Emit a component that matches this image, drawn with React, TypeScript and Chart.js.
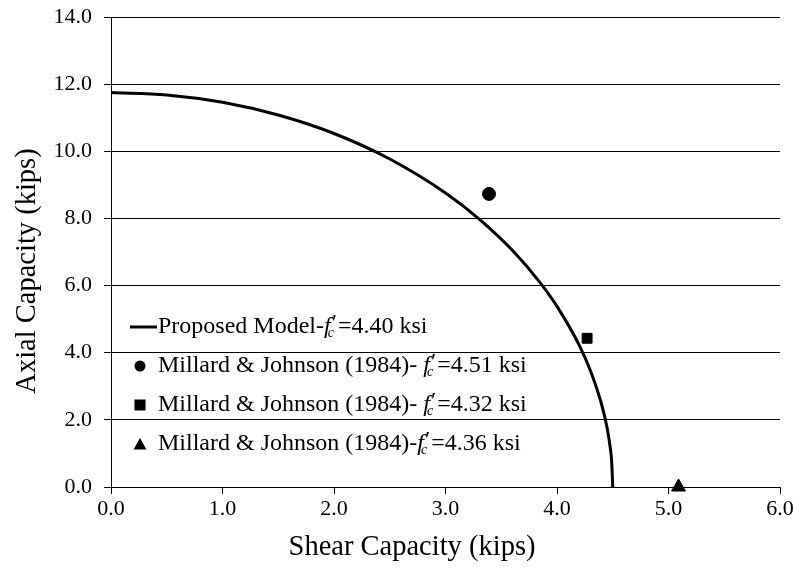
import React, { useEffect, useRef } from "react";
import { Chart, registerables } from "chart.js";

Chart.register(...registerables);

// Proposed model curve
const curveX = [0, 0.5, 1.0, 1.5, 2.0, 2.5, 3.0, 3.3, 3.6, 3.85, 4.0, 4.2, 4.3, 4.4, 4.45, 4.48, 4.49, 4.5];
const curveY = [11.75, 11.68, 11.46, 11.08, 10.53, 9.77, 8.76, 7.99, 7.05, 6.08, 5.38, 4.22, 3.46, 2.46, 1.75, 1.11, 0.78, 0.0];

// Millard & Johnson (1984) test points
const circlePt = { x: 3.39, y: 8.73 };
const squarePt = { x: 4.27, y: 4.43 };
const trianglePt = { x: 5.09, y: 0.0 };

const xTicks = [0, 1, 2, 3, 4, 5, 6];
const yTicks = [0, 2, 4, 6, 8, 10, 12, 14];

const xTitle = "Shear Capacity (kips)";
const yTitle = "Axial Capacity (kips)";

const legendPrefixes = [
  "Proposed Model-",
  "Millard & Johnson (1984)- ",
  "Millard & Johnson (1984)- ",
  "Millard & Johnson (1984)-",
];
const legendValues = ["=4.40 ksi", "=4.51 ksi", "=4.32 ksi", "=4.36 ksi"];
const legendMarkers = ["line", "circle", "rect", "triangle"];

const FONT = '"Liberation Serif", "Times New Roman", serif';
const LEG = 24;
const TITLE = 28.5;

const titlePlugin = {
  id: "axisTitles",
  afterDraw(chart: any) {
    const { ctx, chartArea } = chart;
    ctx.save();
    ctx.fillStyle = "#000";
    ctx.font = `${TITLE}px ${FONT}`;
    ctx.textAlign = "center";
    ctx.textBaseline = "middle";
    ctx.fillText(xTitle, chartArea.left + 301, chartArea.bottom + 61);
    ctx.translate(28, chartArea.top + 254);
    ctx.rotate(-Math.PI / 2);
    ctx.fillText(yTitle, 0, 0);
    ctx.restore();
  },
};

const legendPlugin = {
  id: "customLegend",
  afterDatasetsDraw(chart: any) {
    const { ctx, chartArea } = chart;
    const x0 = chartArea.left + 46;
    const offsets = [160, 121, 82, 43];
    ctx.save();
    ctx.fillStyle = "#000";
    ctx.strokeStyle = "#000";
    ctx.textBaseline = "middle";
    for (let i = 0; i < legendPrefixes.length; i++) {
      const y = chartArea.bottom - offsets[i];
      const m = legendMarkers[i];
      const mx = x0 - 17;
      if (m === "line") {
        ctx.lineWidth = 3;
        ctx.beginPath();
        ctx.moveTo(x0 - 27, y);
        ctx.lineTo(x0, y);
        ctx.stroke();
      } else if (m === "circle") {
        ctx.beginPath();
        ctx.arc(mx, y, 5.5, 0, Math.PI * 2);
        ctx.fill();
      } else if (m === "rect") {
        ctx.fillRect(mx - 5.5, y - 5.5, 11, 11);
      } else {
        ctx.beginPath();
        ctx.moveTo(mx, y - 6);
        ctx.lineTo(mx + 6.5, y + 5.5);
        ctx.lineTo(mx - 6.5, y + 5.5);
        ctx.closePath();
        ctx.fill();
      }
      let x = x0 + 1;
      ctx.font = `${LEG}px ${FONT}`;
      ctx.fillText(legendPrefixes[i], x, y);
      x += ctx.measureText(legendPrefixes[i]).width;
      ctx.font = `italic ${LEG}px ${FONT}`;
      ctx.fillText("f", x, y);
      const fw = ctx.measureText("f").width;
      ctx.font = `${LEG}px ${FONT}`;
      ctx.fillText("\u2032", x + fw + 1, y - 3);
      const pw = ctx.measureText("\u2032").width;
      ctx.font = `italic 14px ${FONT}`;
      ctx.fillText("c", x + fw - 3, y + 6);
      const cw = ctx.measureText("c").width;
      x += Math.max(fw + 1 + pw, fw - 3 + cw) + 1;
      ctx.font = `${LEG}px ${FONT}`;
      ctx.fillText(legendValues[i], x, y);
    }
    ctx.restore();
  },
};

export default function App() {
  const ref = useRef<HTMLCanvasElement>(null);
  useEffect(() => {
    document.body.style.margin = "0";
    const chart = new Chart(ref.current!, {
      type: "scatter",
      data: {
        datasets: [
          {
            type: "line",
            label: "Proposed Model",
            data: curveX.map((x, i) => ({ x, y: curveY[i] })),
            borderColor: "#000",
            borderWidth: 3,
            pointRadius: 0,
            fill: false,
            cubicInterpolationMode: "monotone",
          } as any,
          {
            label: "M&J 4.51",
            data: [circlePt],
            pointStyle: "circle",
            pointRadius: 6.5,
            backgroundColor: "#000",
            borderColor: "#000",
          },
          {
            label: "M&J 4.32",
            data: [squarePt],
            pointStyle: "rect",
            pointRadius: 7,
            backgroundColor: "#000",
            borderColor: "#000",
          },
          {
            label: "M&J 4.36",
            data: [trianglePt],
            pointStyle: "triangle",
            pointRadius: 8,
            backgroundColor: "#000",
            borderColor: "#000",
            clip: false,
          } as any,
        ],
      },
      options: {
        animation: false,
        responsive: true,
        maintainAspectRatio: false,
        layout: { padding: { top: 17, right: 14, left: 0, bottom: 0 } },
        plugins: {
          legend: { display: false },
          tooltip: { enabled: false },
        },
        scales: {
          x: {
            type: "linear",
            min: 0,
            max: 6,
            afterBuildTicks: (s: any) => {
              s.ticks = xTicks.map((v) => ({ value: v }));
            },
            afterFit: (s: any) => {
              s.height = 84;
              s.paddingLeft = 0;
              s.paddingRight = 0;
            },
            ticks: {
              color: "#000",
              font: { family: FONT, size: 22 },
              padding: 2,
              maxRotation: 0,
              callback: (v: any) => Number(v).toFixed(1),
            },
            grid: {
              display: true,
              drawOnChartArea: false,
              drawTicks: true,
              tickLength: 7,
              color: "#000",
            },
            border: { display: true, color: "#000", width: 1 },
            title: { display: false },
          },
          y: {
            type: "linear",
            min: 0,
            max: 14,
            afterBuildTicks: (s: any) => {
              s.ticks = yTicks.map((v) => ({ value: v }));
            },
            afterFit: (s: any) => {
              s.width = 111;
              s.paddingTop = 0;
              s.paddingBottom = 0;
            },
            ticks: {
              color: "#000",
              font: { family: FONT, size: 22 },
              padding: 12,
              callback: (v: any) => Number(v).toFixed(1),
            },
            grid: {
              display: true,
              color: "#000",
              lineWidth: 1,
              tickLength: 7,
            },
            border: { display: true, color: "#000", width: 1 },
            title: { display: false },
          },
        },
      },
      plugins: [legendPlugin, titlePlugin],
    });
    return () => chart.destroy();
  }, []);
  return (
    <div style={{ width: 794, height: 571, position: "relative" }}>
      <canvas ref={ref} />
    </div>
  );
}
